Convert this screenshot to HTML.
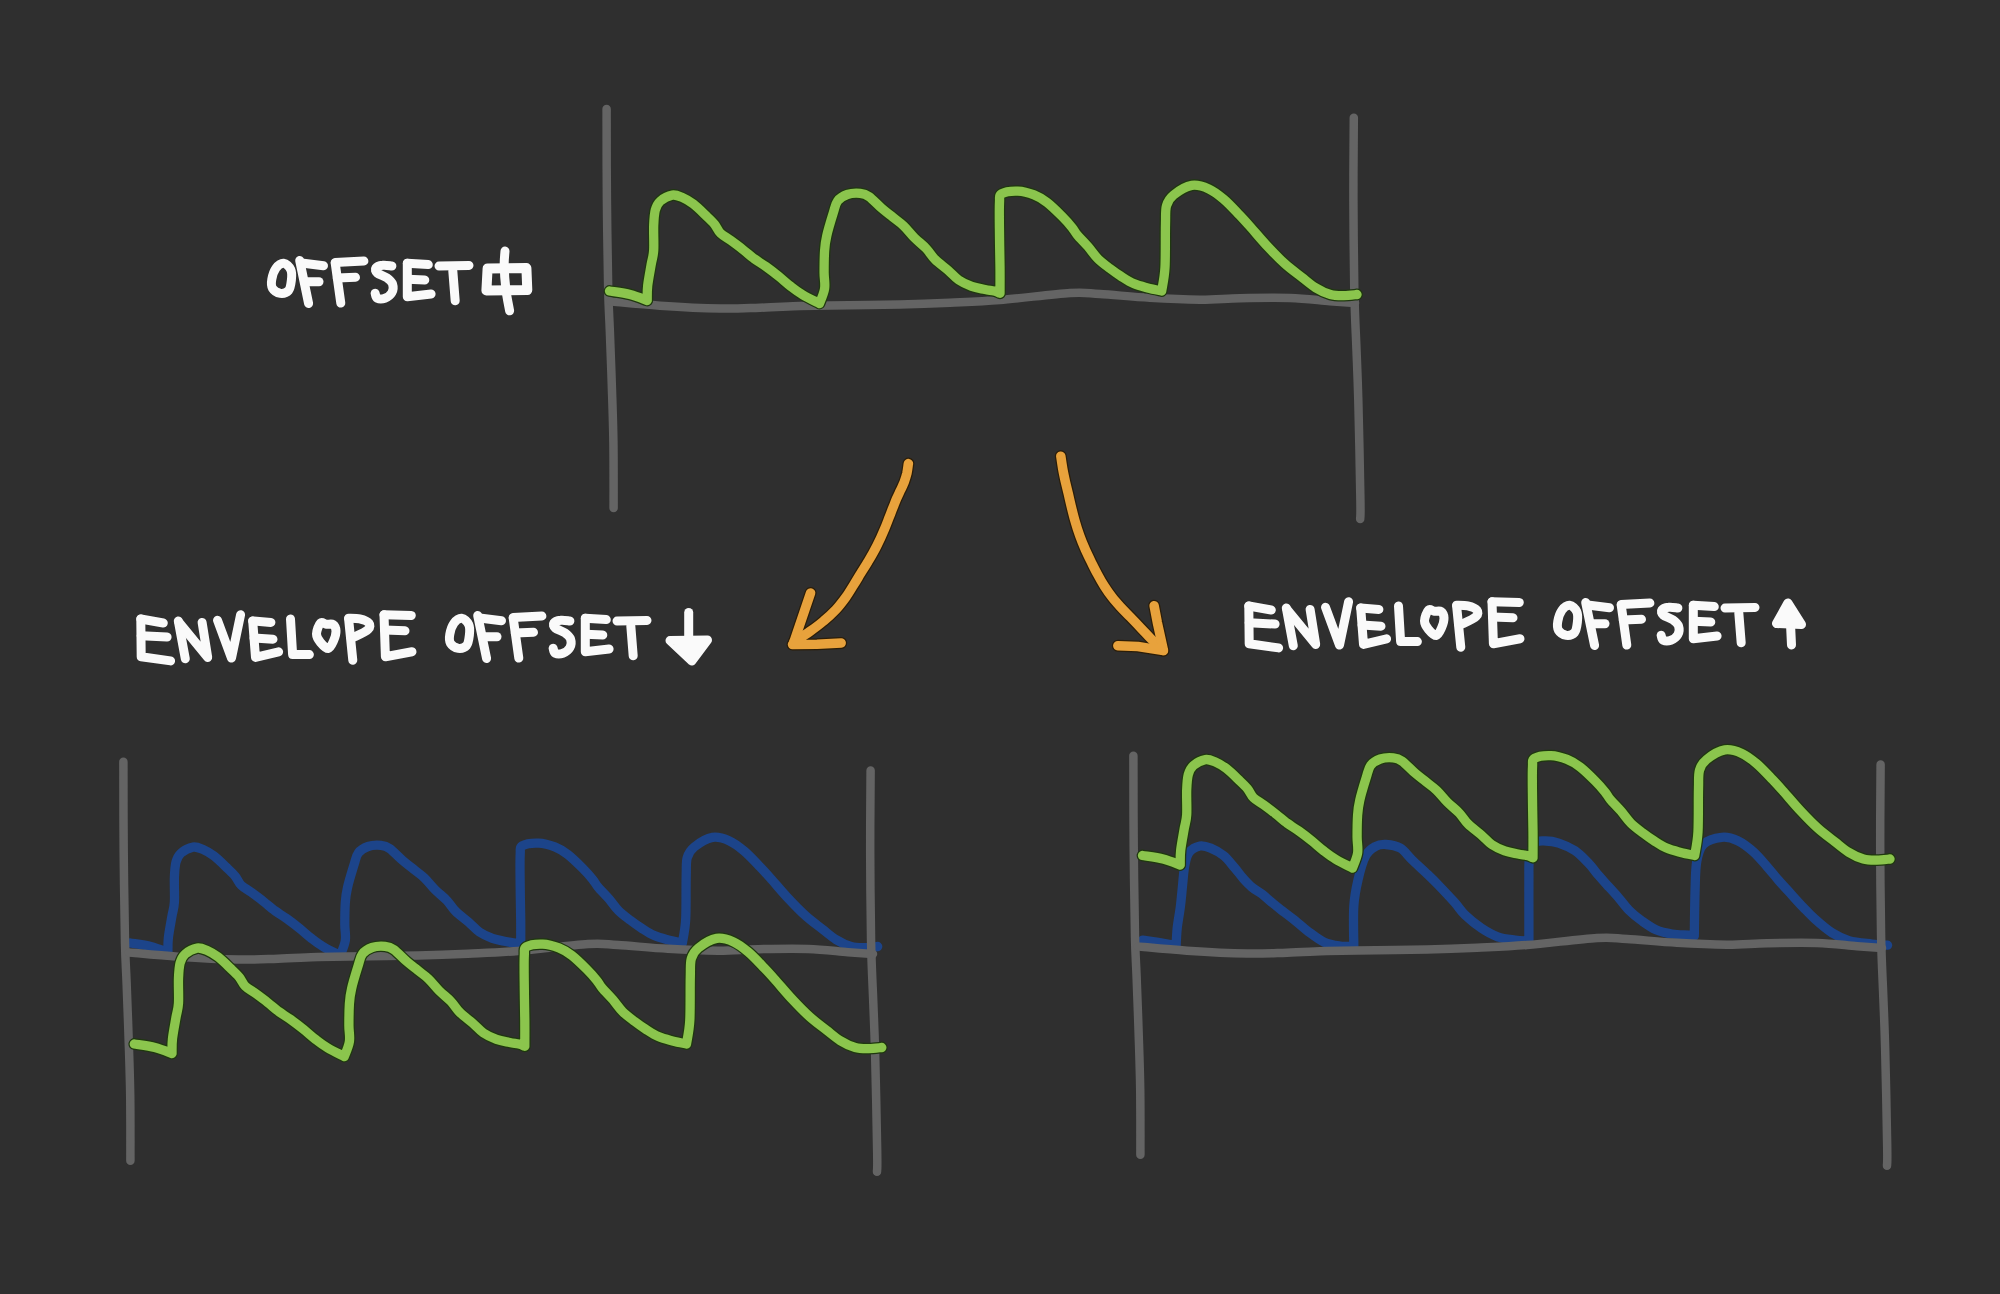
<!DOCTYPE html>
<html><head><meta charset="utf-8"><style>
html,body{margin:0;padding:0;background:#2f2f2f;width:2000px;height:1294px;overflow:hidden;}
svg{display:block;}
path{fill:none;stroke-linecap:round;stroke-linejoin:round;}
.ax{stroke:#646464;stroke-width:8.5;}
.gr{stroke:#8bc54d;stroke-width:9.3;}
.bl{stroke:#1c448a;stroke-width:9.3;}
.halo{stroke:#1f380f;stroke-width:11.8;}
.or{stroke:#e8a23c;stroke-width:9.5;}
.orh{stroke:#2b1d08;stroke-width:12.0;}
.tx{stroke:#fafafa;stroke-width:9;}
.tf{stroke:#fafafa;fill:#fafafa;stroke-width:9;}
</style></head><body>
<svg width="2000" height="1294" viewBox="0 0 2000 1294">
<rect width="2000" height="1294" fill="#2f2f2f"/>
<path class="ax" d="M606.6,109.0 C606.6,124.2 606.6,169.8 606.9,200.0 C607.2,230.2 607.7,268.3 608.2,290.0 C608.7,311.7 609.2,314.2 609.8,330.0 C610.4,345.8 611.2,366.3 611.8,385.0 C612.4,403.7 613.1,421.5 613.4,442.0 C613.7,462.5 613.6,497.0 613.6,508.0"/><path class="ax" d="M1353.8,117.8 C1353.7,131.5 1353.3,171.3 1353.4,200.0 C1353.5,228.7 1353.8,265.0 1354.3,290.0 C1354.8,315.0 1355.8,331.7 1356.5,350.0 C1357.2,368.3 1357.6,375.0 1358.3,400.0 C1359.0,425.0 1360.1,480.2 1360.4,500.0 C1360.7,519.8 1360.2,515.8 1360.2,519.0"/><path class="ax" d="M611.0,301.5 C619.2,302.2 641.8,304.5 660.0,305.7 C678.2,306.9 703.3,308.2 720.0,308.5 C736.7,308.8 746.7,308.1 760.0,307.7 C773.3,307.3 788.3,306.4 800.0,306.0 C811.7,305.6 813.3,305.8 830.0,305.5 C846.7,305.2 880.0,305.0 900.0,304.5 C920.0,304.0 933.3,303.5 950.0,302.8 C966.7,302.0 980.0,301.6 1000.0,300.0 C1020.0,298.4 1053.3,294.0 1070.0,293.0 C1086.7,292.0 1086.7,293.2 1100.0,294.0 C1113.3,294.8 1133.3,296.9 1150.0,297.8 C1166.7,298.8 1185.0,299.6 1200.0,299.7 C1215.0,299.8 1225.0,298.5 1240.0,298.2 C1255.0,297.9 1275.0,297.5 1290.0,298.0 C1305.0,298.5 1319.2,300.4 1330.0,301.2 C1340.8,302.0 1350.8,302.7 1355.0,303.0"/><path class="halo" d="M609.5,291.0 C612.9,291.6 623.8,292.9 630.1,294.5 C636.4,296.1 644.4,299.5 647.2,300.5 C647.3,298.0 647.0,291.5 647.7,285.5 C648.4,279.5 650.2,270.3 651.2,264.4 C652.2,258.5 653.3,256.8 653.7,250.3 C654.1,243.8 653.4,231.9 653.7,225.2 C654.0,218.5 654.2,214.1 655.3,210.1 C656.4,206.1 657.5,203.6 660.3,201.1 C663.1,198.6 668.6,195.7 672.3,195.1 C676.0,194.5 678.9,196.1 682.4,197.6 C685.9,199.1 689.5,201.2 693.4,204.1 C697.2,207.0 702.0,211.8 705.5,215.2 C709.0,218.5 712.0,221.2 714.5,224.2 C717.0,227.2 717.8,230.5 720.5,233.2 C723.2,235.9 726.9,237.6 730.6,240.3 C734.3,243.0 738.8,246.3 742.6,249.3 C746.5,252.3 749.9,255.5 753.7,258.4 C757.6,261.2 761.5,263.4 765.7,266.4 C769.9,269.4 774.6,273.0 778.8,276.4 C783.0,279.8 786.9,283.4 790.9,286.5 C794.9,289.6 798.2,292.2 803.0,295.0 C807.8,297.8 816.8,302.1 819.5,303.5 C820.4,301.0 823.8,293.8 824.6,288.6 C825.4,283.4 824.1,278.7 824.1,272.4 C824.1,266.1 824.2,256.8 824.6,250.7 C825.0,244.6 825.3,241.9 826.8,235.6 C828.2,229.3 831.5,218.7 833.3,212.9 C835.1,207.1 835.3,204.1 837.6,201.0 C839.9,197.9 843.5,195.8 847.3,194.5 C851.1,193.2 856.7,193.1 860.3,193.4 C863.9,193.8 865.4,194.1 869.0,196.6 C872.6,199.1 878.0,205.1 882.0,208.5 C886.0,211.9 889.2,214.3 892.8,217.2 C896.4,220.1 900.0,222.4 903.6,225.8 C907.2,229.2 910.6,233.9 914.4,237.7 C918.2,241.5 922.9,245.0 926.3,248.6 C929.7,252.2 931.4,255.8 935.0,259.4 C938.6,263.0 944.0,266.8 948.0,270.2 C952.0,273.6 954.8,277.3 958.7,280.0 C962.7,282.7 967.3,284.8 971.7,286.4 C976.1,288.0 981.3,288.7 985.0,289.5 C988.7,290.3 991.6,290.5 994.1,291.1 C996.6,291.7 999.0,292.9 1000.0,293.3 C1000.0,289.0 1000.1,277.0 1000.0,267.3 C999.9,257.6 999.6,245.7 999.5,234.9 C999.4,224.1 999.1,209.3 999.5,202.5 C999.9,195.7 998.5,195.7 1001.6,193.8 C1004.7,191.9 1012.5,190.9 1017.9,191.1 C1023.3,191.3 1029.2,193.0 1034.1,194.9 C1039.0,196.8 1042.4,198.9 1047.1,202.5 C1051.8,206.1 1058.1,212.4 1062.2,216.5 C1066.3,220.6 1069.4,224.2 1071.9,227.3 C1074.4,230.4 1074.6,231.7 1077.3,234.9 C1080.0,238.2 1084.8,242.8 1088.2,246.8 C1091.6,250.8 1094.3,255.1 1097.9,258.7 C1101.5,262.3 1106.0,265.5 1109.8,268.4 C1113.6,271.3 1116.6,273.5 1120.6,276.0 C1124.6,278.5 1129.1,281.6 1133.6,283.6 C1138.1,285.6 1143.0,286.7 1147.7,287.9 C1152.4,289.1 1159.4,290.5 1161.7,291.0 C1162.2,287.1 1164.4,278.4 1165.0,267.3 C1165.6,256.2 1165.2,234.4 1165.5,224.1 C1165.8,213.8 1165.2,210.5 1166.5,205.7 C1167.8,200.8 1169.4,198.4 1173.6,195.0 C1177.8,191.6 1185.9,186.4 1191.8,185.4 C1197.7,184.4 1203.5,186.6 1208.8,188.9 C1214.1,191.2 1218.5,194.8 1223.6,199.1 C1228.7,203.4 1235.0,210.3 1239.5,215.0 C1244.0,219.7 1246.2,222.2 1250.9,227.5 C1255.6,232.8 1262.2,240.8 1267.9,246.8 C1273.6,252.9 1279.2,258.7 1284.9,263.8 C1290.6,268.9 1296.9,273.4 1302.0,277.4 C1307.1,281.4 1310.9,284.8 1315.6,287.7 C1320.3,290.6 1325.7,293.2 1330.4,294.5 C1335.1,295.8 1339.6,295.6 1344.0,295.6 C1348.4,295.6 1354.8,294.7 1357.0,294.5"/><path class="gr" d="M609.5,291.0 C612.9,291.6 623.8,292.9 630.1,294.5 C636.4,296.1 644.4,299.5 647.2,300.5 C647.3,298.0 647.0,291.5 647.7,285.5 C648.4,279.5 650.2,270.3 651.2,264.4 C652.2,258.5 653.3,256.8 653.7,250.3 C654.1,243.8 653.4,231.9 653.7,225.2 C654.0,218.5 654.2,214.1 655.3,210.1 C656.4,206.1 657.5,203.6 660.3,201.1 C663.1,198.6 668.6,195.7 672.3,195.1 C676.0,194.5 678.9,196.1 682.4,197.6 C685.9,199.1 689.5,201.2 693.4,204.1 C697.2,207.0 702.0,211.8 705.5,215.2 C709.0,218.5 712.0,221.2 714.5,224.2 C717.0,227.2 717.8,230.5 720.5,233.2 C723.2,235.9 726.9,237.6 730.6,240.3 C734.3,243.0 738.8,246.3 742.6,249.3 C746.5,252.3 749.9,255.5 753.7,258.4 C757.6,261.2 761.5,263.4 765.7,266.4 C769.9,269.4 774.6,273.0 778.8,276.4 C783.0,279.8 786.9,283.4 790.9,286.5 C794.9,289.6 798.2,292.2 803.0,295.0 C807.8,297.8 816.8,302.1 819.5,303.5 C820.4,301.0 823.8,293.8 824.6,288.6 C825.4,283.4 824.1,278.7 824.1,272.4 C824.1,266.1 824.2,256.8 824.6,250.7 C825.0,244.6 825.3,241.9 826.8,235.6 C828.2,229.3 831.5,218.7 833.3,212.9 C835.1,207.1 835.3,204.1 837.6,201.0 C839.9,197.9 843.5,195.8 847.3,194.5 C851.1,193.2 856.7,193.1 860.3,193.4 C863.9,193.8 865.4,194.1 869.0,196.6 C872.6,199.1 878.0,205.1 882.0,208.5 C886.0,211.9 889.2,214.3 892.8,217.2 C896.4,220.1 900.0,222.4 903.6,225.8 C907.2,229.2 910.6,233.9 914.4,237.7 C918.2,241.5 922.9,245.0 926.3,248.6 C929.7,252.2 931.4,255.8 935.0,259.4 C938.6,263.0 944.0,266.8 948.0,270.2 C952.0,273.6 954.8,277.3 958.7,280.0 C962.7,282.7 967.3,284.8 971.7,286.4 C976.1,288.0 981.3,288.7 985.0,289.5 C988.7,290.3 991.6,290.5 994.1,291.1 C996.6,291.7 999.0,292.9 1000.0,293.3 C1000.0,289.0 1000.1,277.0 1000.0,267.3 C999.9,257.6 999.6,245.7 999.5,234.9 C999.4,224.1 999.1,209.3 999.5,202.5 C999.9,195.7 998.5,195.7 1001.6,193.8 C1004.7,191.9 1012.5,190.9 1017.9,191.1 C1023.3,191.3 1029.2,193.0 1034.1,194.9 C1039.0,196.8 1042.4,198.9 1047.1,202.5 C1051.8,206.1 1058.1,212.4 1062.2,216.5 C1066.3,220.6 1069.4,224.2 1071.9,227.3 C1074.4,230.4 1074.6,231.7 1077.3,234.9 C1080.0,238.2 1084.8,242.8 1088.2,246.8 C1091.6,250.8 1094.3,255.1 1097.9,258.7 C1101.5,262.3 1106.0,265.5 1109.8,268.4 C1113.6,271.3 1116.6,273.5 1120.6,276.0 C1124.6,278.5 1129.1,281.6 1133.6,283.6 C1138.1,285.6 1143.0,286.7 1147.7,287.9 C1152.4,289.1 1159.4,290.5 1161.7,291.0 C1162.2,287.1 1164.4,278.4 1165.0,267.3 C1165.6,256.2 1165.2,234.4 1165.5,224.1 C1165.8,213.8 1165.2,210.5 1166.5,205.7 C1167.8,200.8 1169.4,198.4 1173.6,195.0 C1177.8,191.6 1185.9,186.4 1191.8,185.4 C1197.7,184.4 1203.5,186.6 1208.8,188.9 C1214.1,191.2 1218.5,194.8 1223.6,199.1 C1228.7,203.4 1235.0,210.3 1239.5,215.0 C1244.0,219.7 1246.2,222.2 1250.9,227.5 C1255.6,232.8 1262.2,240.8 1267.9,246.8 C1273.6,252.9 1279.2,258.7 1284.9,263.8 C1290.6,268.9 1296.9,273.4 1302.0,277.4 C1307.1,281.4 1310.9,284.8 1315.6,287.7 C1320.3,290.6 1325.7,293.2 1330.4,294.5 C1335.1,295.8 1339.6,295.6 1344.0,295.6 C1348.4,295.6 1354.8,294.7 1357.0,294.5"/><g transform="translate(-479.3,652)"><path class="bl" d="M609.5,291.0 C612.9,291.6 623.8,292.9 630.1,294.5 C636.4,296.1 644.4,299.5 647.2,300.5 C647.3,298.0 647.0,291.5 647.7,285.5 C648.4,279.5 650.2,270.3 651.2,264.4 C652.2,258.5 653.3,256.8 653.7,250.3 C654.1,243.8 653.4,231.9 653.7,225.2 C654.0,218.5 654.2,214.1 655.3,210.1 C656.4,206.1 657.5,203.6 660.3,201.1 C663.1,198.6 668.6,195.7 672.3,195.1 C676.0,194.5 678.9,196.1 682.4,197.6 C685.9,199.1 689.5,201.2 693.4,204.1 C697.2,207.0 702.0,211.8 705.5,215.2 C709.0,218.5 712.0,221.2 714.5,224.2 C717.0,227.2 717.8,230.5 720.5,233.2 C723.2,235.9 726.9,237.6 730.6,240.3 C734.3,243.0 738.8,246.3 742.6,249.3 C746.5,252.3 749.9,255.5 753.7,258.4 C757.6,261.2 761.5,263.4 765.7,266.4 C769.9,269.4 774.6,273.0 778.8,276.4 C783.0,279.8 786.9,283.4 790.9,286.5 C794.9,289.6 798.2,292.2 803.0,295.0 C807.8,297.8 816.8,302.1 819.5,303.5 C820.4,301.0 823.8,293.8 824.6,288.6 C825.4,283.4 824.1,278.7 824.1,272.4 C824.1,266.1 824.2,256.8 824.6,250.7 C825.0,244.6 825.3,241.9 826.8,235.6 C828.2,229.3 831.5,218.7 833.3,212.9 C835.1,207.1 835.3,204.1 837.6,201.0 C839.9,197.9 843.5,195.8 847.3,194.5 C851.1,193.2 856.7,193.1 860.3,193.4 C863.9,193.8 865.4,194.1 869.0,196.6 C872.6,199.1 878.0,205.1 882.0,208.5 C886.0,211.9 889.2,214.3 892.8,217.2 C896.4,220.1 900.0,222.4 903.6,225.8 C907.2,229.2 910.6,233.9 914.4,237.7 C918.2,241.5 922.9,245.0 926.3,248.6 C929.7,252.2 931.4,255.8 935.0,259.4 C938.6,263.0 944.0,266.8 948.0,270.2 C952.0,273.6 954.8,277.3 958.7,280.0 C962.7,282.7 967.3,284.8 971.7,286.4 C976.1,288.0 981.3,288.7 985.0,289.5 C988.7,290.3 991.6,290.5 994.1,291.1 C996.6,291.7 999.0,292.9 1000.0,293.3 C1000.0,289.0 1000.1,277.0 1000.0,267.3 C999.9,257.6 999.6,245.7 999.5,234.9 C999.4,224.1 999.1,209.3 999.5,202.5 C999.9,195.7 998.5,195.7 1001.6,193.8 C1004.7,191.9 1012.5,190.9 1017.9,191.1 C1023.3,191.3 1029.2,193.0 1034.1,194.9 C1039.0,196.8 1042.4,198.9 1047.1,202.5 C1051.8,206.1 1058.1,212.4 1062.2,216.5 C1066.3,220.6 1069.4,224.2 1071.9,227.3 C1074.4,230.4 1074.6,231.7 1077.3,234.9 C1080.0,238.2 1084.8,242.8 1088.2,246.8 C1091.6,250.8 1094.3,255.1 1097.9,258.7 C1101.5,262.3 1106.0,265.5 1109.8,268.4 C1113.6,271.3 1116.6,273.5 1120.6,276.0 C1124.6,278.5 1129.1,281.6 1133.6,283.6 C1138.1,285.6 1143.0,286.7 1147.7,287.9 C1152.4,289.1 1159.4,290.5 1161.7,291.0 C1162.2,287.1 1164.4,278.4 1165.0,267.3 C1165.6,256.2 1165.2,234.4 1165.5,224.1 C1165.8,213.8 1165.2,210.5 1166.5,205.7 C1167.8,200.8 1169.4,198.4 1173.6,195.0 C1177.8,191.6 1185.9,186.4 1191.8,185.4 C1197.7,184.4 1203.5,186.6 1208.8,188.9 C1214.1,191.2 1218.5,194.8 1223.6,199.1 C1228.7,203.4 1235.0,210.3 1239.5,215.0 C1244.0,219.7 1246.2,222.2 1250.9,227.5 C1255.6,232.8 1262.2,240.8 1267.9,246.8 C1273.6,252.9 1279.2,258.7 1284.9,263.8 C1290.6,268.9 1296.9,273.4 1302.0,277.4 C1307.1,281.4 1310.9,284.8 1315.6,287.7 C1320.3,290.6 1325.7,293.2 1330.4,294.5 C1335.1,295.8 1339.6,295.6 1344.0,295.6 C1348.4,295.6 1354.8,294.7 1357.0,294.5"/></g><g transform="translate(-483.2,652.8)"><path class="ax" d="M606.6,109.0 C606.6,124.2 606.6,169.8 606.9,200.0 C607.2,230.2 607.7,268.3 608.2,290.0 C608.7,311.7 609.2,314.2 609.8,330.0 C610.4,345.8 611.2,366.3 611.8,385.0 C612.4,403.7 613.1,421.5 613.4,442.0 C613.7,462.5 613.6,497.0 613.6,508.0"/><path class="ax" d="M1353.8,117.8 C1353.7,131.5 1353.3,171.3 1353.4,200.0 C1353.5,228.7 1353.8,265.0 1354.3,290.0 C1354.8,315.0 1355.8,331.7 1356.5,350.0 C1357.2,368.3 1357.6,375.0 1358.3,400.0 C1359.0,425.0 1360.1,480.2 1360.4,500.0 C1360.7,519.8 1360.2,515.8 1360.2,519.0"/></g><g transform="translate(-482,651)"><path class="ax" d="M611.0,301.5 C619.2,302.2 641.8,304.5 660.0,305.7 C678.2,306.9 703.3,308.2 720.0,308.5 C736.7,308.8 746.7,308.1 760.0,307.7 C773.3,307.3 788.3,306.4 800.0,306.0 C811.7,305.6 813.3,305.8 830.0,305.5 C846.7,305.2 880.0,305.0 900.0,304.5 C920.0,304.0 933.3,303.5 950.0,302.8 C966.7,302.0 980.0,301.6 1000.0,300.0 C1020.0,298.4 1053.3,294.0 1070.0,293.0 C1086.7,292.0 1086.7,293.2 1100.0,294.0 C1113.3,294.8 1133.3,296.9 1150.0,297.8 C1166.7,298.8 1185.0,299.6 1200.0,299.7 C1215.0,299.8 1225.0,298.5 1240.0,298.2 C1255.0,297.9 1275.0,297.5 1290.0,298.0 C1305.0,298.5 1319.2,300.4 1330.0,301.2 C1340.8,302.0 1350.8,302.7 1355.0,303.0"/></g><g transform="translate(-475.2,753)"><path class="halo" d="M609.5,291.0 C612.9,291.6 623.8,292.9 630.1,294.5 C636.4,296.1 644.4,299.5 647.2,300.5 C647.3,298.0 647.0,291.5 647.7,285.5 C648.4,279.5 650.2,270.3 651.2,264.4 C652.2,258.5 653.3,256.8 653.7,250.3 C654.1,243.8 653.4,231.9 653.7,225.2 C654.0,218.5 654.2,214.1 655.3,210.1 C656.4,206.1 657.5,203.6 660.3,201.1 C663.1,198.6 668.6,195.7 672.3,195.1 C676.0,194.5 678.9,196.1 682.4,197.6 C685.9,199.1 689.5,201.2 693.4,204.1 C697.2,207.0 702.0,211.8 705.5,215.2 C709.0,218.5 712.0,221.2 714.5,224.2 C717.0,227.2 717.8,230.5 720.5,233.2 C723.2,235.9 726.9,237.6 730.6,240.3 C734.3,243.0 738.8,246.3 742.6,249.3 C746.5,252.3 749.9,255.5 753.7,258.4 C757.6,261.2 761.5,263.4 765.7,266.4 C769.9,269.4 774.6,273.0 778.8,276.4 C783.0,279.8 786.9,283.4 790.9,286.5 C794.9,289.6 798.2,292.2 803.0,295.0 C807.8,297.8 816.8,302.1 819.5,303.5 C820.4,301.0 823.8,293.8 824.6,288.6 C825.4,283.4 824.1,278.7 824.1,272.4 C824.1,266.1 824.2,256.8 824.6,250.7 C825.0,244.6 825.3,241.9 826.8,235.6 C828.2,229.3 831.5,218.7 833.3,212.9 C835.1,207.1 835.3,204.1 837.6,201.0 C839.9,197.9 843.5,195.8 847.3,194.5 C851.1,193.2 856.7,193.1 860.3,193.4 C863.9,193.8 865.4,194.1 869.0,196.6 C872.6,199.1 878.0,205.1 882.0,208.5 C886.0,211.9 889.2,214.3 892.8,217.2 C896.4,220.1 900.0,222.4 903.6,225.8 C907.2,229.2 910.6,233.9 914.4,237.7 C918.2,241.5 922.9,245.0 926.3,248.6 C929.7,252.2 931.4,255.8 935.0,259.4 C938.6,263.0 944.0,266.8 948.0,270.2 C952.0,273.6 954.8,277.3 958.7,280.0 C962.7,282.7 967.3,284.8 971.7,286.4 C976.1,288.0 981.3,288.7 985.0,289.5 C988.7,290.3 991.6,290.5 994.1,291.1 C996.6,291.7 999.0,292.9 1000.0,293.3 C1000.0,289.0 1000.1,277.0 1000.0,267.3 C999.9,257.6 999.6,245.7 999.5,234.9 C999.4,224.1 999.1,209.3 999.5,202.5 C999.9,195.7 998.5,195.7 1001.6,193.8 C1004.7,191.9 1012.5,190.9 1017.9,191.1 C1023.3,191.3 1029.2,193.0 1034.1,194.9 C1039.0,196.8 1042.4,198.9 1047.1,202.5 C1051.8,206.1 1058.1,212.4 1062.2,216.5 C1066.3,220.6 1069.4,224.2 1071.9,227.3 C1074.4,230.4 1074.6,231.7 1077.3,234.9 C1080.0,238.2 1084.8,242.8 1088.2,246.8 C1091.6,250.8 1094.3,255.1 1097.9,258.7 C1101.5,262.3 1106.0,265.5 1109.8,268.4 C1113.6,271.3 1116.6,273.5 1120.6,276.0 C1124.6,278.5 1129.1,281.6 1133.6,283.6 C1138.1,285.6 1143.0,286.7 1147.7,287.9 C1152.4,289.1 1159.4,290.5 1161.7,291.0 C1162.2,287.1 1164.4,278.4 1165.0,267.3 C1165.6,256.2 1165.2,234.4 1165.5,224.1 C1165.8,213.8 1165.2,210.5 1166.5,205.7 C1167.8,200.8 1169.4,198.4 1173.6,195.0 C1177.8,191.6 1185.9,186.4 1191.8,185.4 C1197.7,184.4 1203.5,186.6 1208.8,188.9 C1214.1,191.2 1218.5,194.8 1223.6,199.1 C1228.7,203.4 1235.0,210.3 1239.5,215.0 C1244.0,219.7 1246.2,222.2 1250.9,227.5 C1255.6,232.8 1262.2,240.8 1267.9,246.8 C1273.6,252.9 1279.2,258.7 1284.9,263.8 C1290.6,268.9 1296.9,273.4 1302.0,277.4 C1307.1,281.4 1310.9,284.8 1315.6,287.7 C1320.3,290.6 1325.7,293.2 1330.4,294.5 C1335.1,295.8 1339.6,295.6 1344.0,295.6 C1348.4,295.6 1354.8,294.7 1357.0,294.5"/><path class="gr" d="M609.5,291.0 C612.9,291.6 623.8,292.9 630.1,294.5 C636.4,296.1 644.4,299.5 647.2,300.5 C647.3,298.0 647.0,291.5 647.7,285.5 C648.4,279.5 650.2,270.3 651.2,264.4 C652.2,258.5 653.3,256.8 653.7,250.3 C654.1,243.8 653.4,231.9 653.7,225.2 C654.0,218.5 654.2,214.1 655.3,210.1 C656.4,206.1 657.5,203.6 660.3,201.1 C663.1,198.6 668.6,195.7 672.3,195.1 C676.0,194.5 678.9,196.1 682.4,197.6 C685.9,199.1 689.5,201.2 693.4,204.1 C697.2,207.0 702.0,211.8 705.5,215.2 C709.0,218.5 712.0,221.2 714.5,224.2 C717.0,227.2 717.8,230.5 720.5,233.2 C723.2,235.9 726.9,237.6 730.6,240.3 C734.3,243.0 738.8,246.3 742.6,249.3 C746.5,252.3 749.9,255.5 753.7,258.4 C757.6,261.2 761.5,263.4 765.7,266.4 C769.9,269.4 774.6,273.0 778.8,276.4 C783.0,279.8 786.9,283.4 790.9,286.5 C794.9,289.6 798.2,292.2 803.0,295.0 C807.8,297.8 816.8,302.1 819.5,303.5 C820.4,301.0 823.8,293.8 824.6,288.6 C825.4,283.4 824.1,278.7 824.1,272.4 C824.1,266.1 824.2,256.8 824.6,250.7 C825.0,244.6 825.3,241.9 826.8,235.6 C828.2,229.3 831.5,218.7 833.3,212.9 C835.1,207.1 835.3,204.1 837.6,201.0 C839.9,197.9 843.5,195.8 847.3,194.5 C851.1,193.2 856.7,193.1 860.3,193.4 C863.9,193.8 865.4,194.1 869.0,196.6 C872.6,199.1 878.0,205.1 882.0,208.5 C886.0,211.9 889.2,214.3 892.8,217.2 C896.4,220.1 900.0,222.4 903.6,225.8 C907.2,229.2 910.6,233.9 914.4,237.7 C918.2,241.5 922.9,245.0 926.3,248.6 C929.7,252.2 931.4,255.8 935.0,259.4 C938.6,263.0 944.0,266.8 948.0,270.2 C952.0,273.6 954.8,277.3 958.7,280.0 C962.7,282.7 967.3,284.8 971.7,286.4 C976.1,288.0 981.3,288.7 985.0,289.5 C988.7,290.3 991.6,290.5 994.1,291.1 C996.6,291.7 999.0,292.9 1000.0,293.3 C1000.0,289.0 1000.1,277.0 1000.0,267.3 C999.9,257.6 999.6,245.7 999.5,234.9 C999.4,224.1 999.1,209.3 999.5,202.5 C999.9,195.7 998.5,195.7 1001.6,193.8 C1004.7,191.9 1012.5,190.9 1017.9,191.1 C1023.3,191.3 1029.2,193.0 1034.1,194.9 C1039.0,196.8 1042.4,198.9 1047.1,202.5 C1051.8,206.1 1058.1,212.4 1062.2,216.5 C1066.3,220.6 1069.4,224.2 1071.9,227.3 C1074.4,230.4 1074.6,231.7 1077.3,234.9 C1080.0,238.2 1084.8,242.8 1088.2,246.8 C1091.6,250.8 1094.3,255.1 1097.9,258.7 C1101.5,262.3 1106.0,265.5 1109.8,268.4 C1113.6,271.3 1116.6,273.5 1120.6,276.0 C1124.6,278.5 1129.1,281.6 1133.6,283.6 C1138.1,285.6 1143.0,286.7 1147.7,287.9 C1152.4,289.1 1159.4,290.5 1161.7,291.0 C1162.2,287.1 1164.4,278.4 1165.0,267.3 C1165.6,256.2 1165.2,234.4 1165.5,224.1 C1165.8,213.8 1165.2,210.5 1166.5,205.7 C1167.8,200.8 1169.4,198.4 1173.6,195.0 C1177.8,191.6 1185.9,186.4 1191.8,185.4 C1197.7,184.4 1203.5,186.6 1208.8,188.9 C1214.1,191.2 1218.5,194.8 1223.6,199.1 C1228.7,203.4 1235.0,210.3 1239.5,215.0 C1244.0,219.7 1246.2,222.2 1250.9,227.5 C1255.6,232.8 1262.2,240.8 1267.9,246.8 C1273.6,252.9 1279.2,258.7 1284.9,263.8 C1290.6,268.9 1296.9,273.4 1302.0,277.4 C1307.1,281.4 1310.9,284.8 1315.6,287.7 C1320.3,290.6 1325.7,293.2 1330.4,294.5 C1335.1,295.8 1339.6,295.6 1344.0,295.6 C1348.4,295.6 1354.8,294.7 1357.0,294.5"/></g><path class="bl" d="M1142.6,940.1 C1144.9,940.5 1151.0,941.3 1156.6,942.2 C1162.2,943.1 1172.8,945.0 1176.1,945.5 C1176.3,942.6 1176.5,934.7 1177.2,928.2 C1177.9,921.7 1179.5,913.7 1180.4,906.5 C1181.3,899.3 1181.9,891.8 1182.6,884.9 C1183.3,878.0 1183.7,870.8 1184.8,865.4 C1185.9,860.0 1186.6,855.7 1189.1,852.5 C1191.6,849.3 1196.3,846.7 1199.9,846.0 C1203.5,845.3 1206.7,846.5 1210.7,848.1 C1214.7,849.7 1219.7,852.5 1223.7,855.7 C1227.7,859.0 1231.2,863.8 1234.5,867.6 C1237.8,871.4 1240.3,875.1 1243.2,878.4 C1246.1,881.6 1248.6,884.4 1251.8,887.1 C1255.0,889.8 1259.5,892.3 1262.6,894.6 C1265.7,896.9 1267.1,898.6 1270.2,901.1 C1273.3,903.6 1276.8,906.5 1281.0,909.8 C1285.2,913.0 1290.6,917.0 1295.1,920.6 C1299.6,924.2 1303.2,927.8 1308.1,931.4 C1313.0,935.0 1319.0,939.8 1324.3,942.2 C1329.6,944.6 1335.1,945.3 1340.0,946.0 C1344.9,946.7 1351.5,946.4 1353.8,946.5 C1353.8,939.8 1353.1,917.7 1353.8,906.5 C1354.5,895.3 1356.1,888.0 1358.1,879.5 C1360.1,871.0 1362.8,861.2 1365.7,855.7 C1368.6,850.2 1372.0,848.4 1375.4,846.5 C1378.8,844.6 1381.8,844.2 1386.0,844.5 C1390.2,844.8 1395.9,845.5 1400.3,848.1 C1404.7,850.7 1407.7,855.7 1412.2,860.0 C1416.7,864.3 1423.0,870.0 1427.3,874.1 C1431.6,878.2 1433.7,880.2 1438.2,884.9 C1442.7,889.6 1449.9,897.2 1454.4,902.2 C1458.9,907.2 1460.7,910.9 1465.2,915.2 C1469.7,919.5 1476.0,924.6 1481.4,928.2 C1486.8,931.8 1492.1,934.8 1497.7,936.8 C1503.3,938.8 1509.8,939.3 1515.0,940.0 C1520.2,940.7 1526.6,940.8 1528.9,941.0 C1528.9,936.2 1528.9,922.6 1528.9,912.4 C1528.9,902.2 1528.8,888.9 1528.9,879.9 C1529.0,870.9 1528.5,864.4 1529.5,858.3 C1530.5,852.2 1532.2,846.0 1534.9,843.1 C1537.6,840.2 1541.7,841.0 1545.7,841.0 C1549.7,841.0 1553.8,841.5 1558.7,843.1 C1563.6,844.7 1570.0,847.5 1574.9,850.7 C1579.8,854.0 1583.9,858.5 1587.9,862.6 C1591.9,866.8 1595.5,871.8 1598.7,875.6 C1602.0,879.4 1604.2,881.7 1607.4,885.3 C1610.7,888.9 1614.6,893.1 1618.2,897.2 C1621.8,901.4 1625.0,906.2 1629.0,910.2 C1633.0,914.2 1637.5,917.8 1642.0,921.0 C1646.5,924.2 1651.0,927.5 1656.0,929.7 C1661.0,931.9 1666.8,933.1 1672.2,934.0 C1677.6,934.9 1684.8,934.8 1688.5,935.1 C1692.2,935.4 1693.3,935.9 1694.3,936.0 C1694.4,928.2 1694.7,902.0 1695.1,889.5 C1695.5,877.0 1695.4,868.7 1696.8,861.1 C1698.2,853.5 1699.4,848.1 1703.6,844.1 C1707.8,840.1 1716.1,837.9 1721.8,837.3 C1727.5,836.7 1732.4,838.2 1737.7,840.7 C1743.0,843.2 1748.7,847.6 1753.6,852.0 C1758.5,856.4 1763.0,862.1 1767.2,866.8 C1771.4,871.5 1774.8,876.0 1778.6,880.4 C1782.4,884.8 1785.8,888.3 1790.0,892.9 C1794.2,897.5 1799.4,903.4 1803.6,907.7 C1807.8,912.1 1810.2,914.8 1814.9,919.0 C1819.6,923.2 1826.3,929.1 1832.0,932.7 C1837.7,936.3 1842.4,938.7 1849.0,940.6 C1855.6,942.5 1865.3,943.2 1871.7,944.0 C1878.1,944.8 1884.9,945.0 1887.6,945.2"/><g transform="translate(526.8,646.8)"><path class="ax" d="M606.6,109.0 C606.6,124.2 606.6,169.8 606.9,200.0 C607.2,230.2 607.7,268.3 608.2,290.0 C608.7,311.7 609.2,314.2 609.8,330.0 C610.4,345.8 611.2,366.3 611.8,385.0 C612.4,403.7 613.1,421.5 613.4,442.0 C613.7,462.5 613.6,497.0 613.6,508.0"/><path class="ax" d="M1353.8,117.8 C1353.7,131.5 1353.3,171.3 1353.4,200.0 C1353.5,228.7 1353.8,265.0 1354.3,290.0 C1354.8,315.0 1355.8,331.7 1356.5,350.0 C1357.2,368.3 1357.6,375.0 1358.3,400.0 C1359.0,425.0 1360.1,480.2 1360.4,500.0 C1360.7,519.8 1360.2,515.8 1360.2,519.0"/></g><g transform="translate(527,645)"><path class="ax" d="M611.0,301.5 C619.2,302.2 641.8,304.5 660.0,305.7 C678.2,306.9 703.3,308.2 720.0,308.5 C736.7,308.8 746.7,308.1 760.0,307.7 C773.3,307.3 788.3,306.4 800.0,306.0 C811.7,305.6 813.3,305.8 830.0,305.5 C846.7,305.2 880.0,305.0 900.0,304.5 C920.0,304.0 933.3,303.5 950.0,302.8 C966.7,302.0 980.0,301.6 1000.0,300.0 C1020.0,298.4 1053.3,294.0 1070.0,293.0 C1086.7,292.0 1086.7,293.2 1100.0,294.0 C1113.3,294.8 1133.3,296.9 1150.0,297.8 C1166.7,298.8 1185.0,299.6 1200.0,299.7 C1215.0,299.8 1225.0,298.5 1240.0,298.2 C1255.0,297.9 1275.0,297.5 1290.0,298.0 C1305.0,298.5 1319.2,300.4 1330.0,301.2 C1340.8,302.0 1350.8,302.7 1355.0,303.0"/></g><g transform="translate(533,564.5)"><path class="halo" d="M609.5,291.0 C612.9,291.6 623.8,292.9 630.1,294.5 C636.4,296.1 644.4,299.5 647.2,300.5 C647.3,298.0 647.0,291.5 647.7,285.5 C648.4,279.5 650.2,270.3 651.2,264.4 C652.2,258.5 653.3,256.8 653.7,250.3 C654.1,243.8 653.4,231.9 653.7,225.2 C654.0,218.5 654.2,214.1 655.3,210.1 C656.4,206.1 657.5,203.6 660.3,201.1 C663.1,198.6 668.6,195.7 672.3,195.1 C676.0,194.5 678.9,196.1 682.4,197.6 C685.9,199.1 689.5,201.2 693.4,204.1 C697.2,207.0 702.0,211.8 705.5,215.2 C709.0,218.5 712.0,221.2 714.5,224.2 C717.0,227.2 717.8,230.5 720.5,233.2 C723.2,235.9 726.9,237.6 730.6,240.3 C734.3,243.0 738.8,246.3 742.6,249.3 C746.5,252.3 749.9,255.5 753.7,258.4 C757.6,261.2 761.5,263.4 765.7,266.4 C769.9,269.4 774.6,273.0 778.8,276.4 C783.0,279.8 786.9,283.4 790.9,286.5 C794.9,289.6 798.2,292.2 803.0,295.0 C807.8,297.8 816.8,302.1 819.5,303.5 C820.4,301.0 823.8,293.8 824.6,288.6 C825.4,283.4 824.1,278.7 824.1,272.4 C824.1,266.1 824.2,256.8 824.6,250.7 C825.0,244.6 825.3,241.9 826.8,235.6 C828.2,229.3 831.5,218.7 833.3,212.9 C835.1,207.1 835.3,204.1 837.6,201.0 C839.9,197.9 843.5,195.8 847.3,194.5 C851.1,193.2 856.7,193.1 860.3,193.4 C863.9,193.8 865.4,194.1 869.0,196.6 C872.6,199.1 878.0,205.1 882.0,208.5 C886.0,211.9 889.2,214.3 892.8,217.2 C896.4,220.1 900.0,222.4 903.6,225.8 C907.2,229.2 910.6,233.9 914.4,237.7 C918.2,241.5 922.9,245.0 926.3,248.6 C929.7,252.2 931.4,255.8 935.0,259.4 C938.6,263.0 944.0,266.8 948.0,270.2 C952.0,273.6 954.8,277.3 958.7,280.0 C962.7,282.7 967.3,284.8 971.7,286.4 C976.1,288.0 981.3,288.7 985.0,289.5 C988.7,290.3 991.6,290.5 994.1,291.1 C996.6,291.7 999.0,292.9 1000.0,293.3 C1000.0,289.0 1000.1,277.0 1000.0,267.3 C999.9,257.6 999.6,245.7 999.5,234.9 C999.4,224.1 999.1,209.3 999.5,202.5 C999.9,195.7 998.5,195.7 1001.6,193.8 C1004.7,191.9 1012.5,190.9 1017.9,191.1 C1023.3,191.3 1029.2,193.0 1034.1,194.9 C1039.0,196.8 1042.4,198.9 1047.1,202.5 C1051.8,206.1 1058.1,212.4 1062.2,216.5 C1066.3,220.6 1069.4,224.2 1071.9,227.3 C1074.4,230.4 1074.6,231.7 1077.3,234.9 C1080.0,238.2 1084.8,242.8 1088.2,246.8 C1091.6,250.8 1094.3,255.1 1097.9,258.7 C1101.5,262.3 1106.0,265.5 1109.8,268.4 C1113.6,271.3 1116.6,273.5 1120.6,276.0 C1124.6,278.5 1129.1,281.6 1133.6,283.6 C1138.1,285.6 1143.0,286.7 1147.7,287.9 C1152.4,289.1 1159.4,290.5 1161.7,291.0 C1162.2,287.1 1164.4,278.4 1165.0,267.3 C1165.6,256.2 1165.2,234.4 1165.5,224.1 C1165.8,213.8 1165.2,210.5 1166.5,205.7 C1167.8,200.8 1169.4,198.4 1173.6,195.0 C1177.8,191.6 1185.9,186.4 1191.8,185.4 C1197.7,184.4 1203.5,186.6 1208.8,188.9 C1214.1,191.2 1218.5,194.8 1223.6,199.1 C1228.7,203.4 1235.0,210.3 1239.5,215.0 C1244.0,219.7 1246.2,222.2 1250.9,227.5 C1255.6,232.8 1262.2,240.8 1267.9,246.8 C1273.6,252.9 1279.2,258.7 1284.9,263.8 C1290.6,268.9 1296.9,273.4 1302.0,277.4 C1307.1,281.4 1310.9,284.8 1315.6,287.7 C1320.3,290.6 1325.7,293.2 1330.4,294.5 C1335.1,295.8 1339.6,295.6 1344.0,295.6 C1348.4,295.6 1354.8,294.7 1357.0,294.5"/><path class="gr" d="M609.5,291.0 C612.9,291.6 623.8,292.9 630.1,294.5 C636.4,296.1 644.4,299.5 647.2,300.5 C647.3,298.0 647.0,291.5 647.7,285.5 C648.4,279.5 650.2,270.3 651.2,264.4 C652.2,258.5 653.3,256.8 653.7,250.3 C654.1,243.8 653.4,231.9 653.7,225.2 C654.0,218.5 654.2,214.1 655.3,210.1 C656.4,206.1 657.5,203.6 660.3,201.1 C663.1,198.6 668.6,195.7 672.3,195.1 C676.0,194.5 678.9,196.1 682.4,197.6 C685.9,199.1 689.5,201.2 693.4,204.1 C697.2,207.0 702.0,211.8 705.5,215.2 C709.0,218.5 712.0,221.2 714.5,224.2 C717.0,227.2 717.8,230.5 720.5,233.2 C723.2,235.9 726.9,237.6 730.6,240.3 C734.3,243.0 738.8,246.3 742.6,249.3 C746.5,252.3 749.9,255.5 753.7,258.4 C757.6,261.2 761.5,263.4 765.7,266.4 C769.9,269.4 774.6,273.0 778.8,276.4 C783.0,279.8 786.9,283.4 790.9,286.5 C794.9,289.6 798.2,292.2 803.0,295.0 C807.8,297.8 816.8,302.1 819.5,303.5 C820.4,301.0 823.8,293.8 824.6,288.6 C825.4,283.4 824.1,278.7 824.1,272.4 C824.1,266.1 824.2,256.8 824.6,250.7 C825.0,244.6 825.3,241.9 826.8,235.6 C828.2,229.3 831.5,218.7 833.3,212.9 C835.1,207.1 835.3,204.1 837.6,201.0 C839.9,197.9 843.5,195.8 847.3,194.5 C851.1,193.2 856.7,193.1 860.3,193.4 C863.9,193.8 865.4,194.1 869.0,196.6 C872.6,199.1 878.0,205.1 882.0,208.5 C886.0,211.9 889.2,214.3 892.8,217.2 C896.4,220.1 900.0,222.4 903.6,225.8 C907.2,229.2 910.6,233.9 914.4,237.7 C918.2,241.5 922.9,245.0 926.3,248.6 C929.7,252.2 931.4,255.8 935.0,259.4 C938.6,263.0 944.0,266.8 948.0,270.2 C952.0,273.6 954.8,277.3 958.7,280.0 C962.7,282.7 967.3,284.8 971.7,286.4 C976.1,288.0 981.3,288.7 985.0,289.5 C988.7,290.3 991.6,290.5 994.1,291.1 C996.6,291.7 999.0,292.9 1000.0,293.3 C1000.0,289.0 1000.1,277.0 1000.0,267.3 C999.9,257.6 999.6,245.7 999.5,234.9 C999.4,224.1 999.1,209.3 999.5,202.5 C999.9,195.7 998.5,195.7 1001.6,193.8 C1004.7,191.9 1012.5,190.9 1017.9,191.1 C1023.3,191.3 1029.2,193.0 1034.1,194.9 C1039.0,196.8 1042.4,198.9 1047.1,202.5 C1051.8,206.1 1058.1,212.4 1062.2,216.5 C1066.3,220.6 1069.4,224.2 1071.9,227.3 C1074.4,230.4 1074.6,231.7 1077.3,234.9 C1080.0,238.2 1084.8,242.8 1088.2,246.8 C1091.6,250.8 1094.3,255.1 1097.9,258.7 C1101.5,262.3 1106.0,265.5 1109.8,268.4 C1113.6,271.3 1116.6,273.5 1120.6,276.0 C1124.6,278.5 1129.1,281.6 1133.6,283.6 C1138.1,285.6 1143.0,286.7 1147.7,287.9 C1152.4,289.1 1159.4,290.5 1161.7,291.0 C1162.2,287.1 1164.4,278.4 1165.0,267.3 C1165.6,256.2 1165.2,234.4 1165.5,224.1 C1165.8,213.8 1165.2,210.5 1166.5,205.7 C1167.8,200.8 1169.4,198.4 1173.6,195.0 C1177.8,191.6 1185.9,186.4 1191.8,185.4 C1197.7,184.4 1203.5,186.6 1208.8,188.9 C1214.1,191.2 1218.5,194.8 1223.6,199.1 C1228.7,203.4 1235.0,210.3 1239.5,215.0 C1244.0,219.7 1246.2,222.2 1250.9,227.5 C1255.6,232.8 1262.2,240.8 1267.9,246.8 C1273.6,252.9 1279.2,258.7 1284.9,263.8 C1290.6,268.9 1296.9,273.4 1302.0,277.4 C1307.1,281.4 1310.9,284.8 1315.6,287.7 C1320.3,290.6 1325.7,293.2 1330.4,294.5 C1335.1,295.8 1339.6,295.6 1344.0,295.6 C1348.4,295.6 1354.8,294.7 1357.0,294.5"/></g><path class="orh" d="M908.4,463.6 C908.1,465.2 907.6,470.3 906.9,473.4 C906.1,476.5 905.2,479.4 904.2,482.2 C903.1,485.1 901.6,487.7 900.4,490.4 C899.1,493.2 897.8,495.9 896.5,498.8 C895.3,501.6 894.2,504.6 893.0,507.6 C891.7,510.7 890.7,513.5 889.3,517.0 C887.9,520.5 886.6,524.2 884.6,528.9 C882.6,533.7 879.8,540.1 877.0,545.5 C874.3,551.0 870.8,557.0 868.0,561.6 C865.3,566.3 863.0,569.6 860.7,573.4 C858.3,577.3 856.3,580.8 853.8,584.7 C851.3,588.7 848.9,593.0 845.9,597.1 C842.9,601.2 839.7,605.5 836.0,609.5 C832.2,613.5 828.0,617.4 823.6,621.0 C819.3,624.7 814.8,628.0 809.8,631.5 C804.9,635.0 796.6,640.2 793.9,642.0"/><path class="orh" d="M810.6,592.9 L793.9,642 M792.5,644.5 L817,644.2 L841.2,643"/><path class="orh" d="M1060.8,456.2 C1061.1,458.3 1062.0,464.5 1062.7,468.6 C1063.4,472.7 1064.3,476.8 1065.2,480.9 C1066.2,485.0 1067.2,489.1 1068.2,493.3 C1069.1,497.5 1070.0,501.4 1071.1,505.9 C1072.2,510.4 1073.4,515.3 1074.8,520.3 C1076.2,525.3 1078.0,531.0 1079.8,535.9 C1081.5,540.7 1083.4,545.2 1085.3,549.5 C1087.2,553.7 1089.0,557.4 1091.0,561.5 C1093.1,565.7 1095.2,570.1 1097.5,574.2 C1099.7,578.3 1102.1,582.6 1104.5,586.4 C1106.9,590.2 1109.3,593.6 1112.0,597.0 C1114.6,600.4 1117.3,603.4 1120.3,606.7 C1123.4,610.1 1126.9,613.5 1130.3,617.0 C1133.7,620.5 1137.2,624.2 1140.7,627.9 C1144.2,631.5 1147.5,635.2 1151.2,639.0 C1155.0,642.8 1161.3,648.7 1163.3,650.6"/><path class="orh" d="M1154.1,605.7 L1157.3,622.4 L1163.5,650.6 M1117.8,645.7 L1137.9,646.5 L1163.5,650.6"/><path class="or" d="M908.4,463.6 C908.1,465.2 907.6,470.3 906.9,473.4 C906.1,476.5 905.2,479.4 904.2,482.2 C903.1,485.1 901.6,487.7 900.4,490.4 C899.1,493.2 897.8,495.9 896.5,498.8 C895.3,501.6 894.2,504.6 893.0,507.6 C891.7,510.7 890.7,513.5 889.3,517.0 C887.9,520.5 886.6,524.2 884.6,528.9 C882.6,533.7 879.8,540.1 877.0,545.5 C874.3,551.0 870.8,557.0 868.0,561.6 C865.3,566.3 863.0,569.6 860.7,573.4 C858.3,577.3 856.3,580.8 853.8,584.7 C851.3,588.7 848.9,593.0 845.9,597.1 C842.9,601.2 839.7,605.5 836.0,609.5 C832.2,613.5 828.0,617.4 823.6,621.0 C819.3,624.7 814.8,628.0 809.8,631.5 C804.9,635.0 796.6,640.2 793.9,642.0"/><path class="or" d="M810.6,592.9 L793.9,642 M792.5,644.5 L817,644.2 L841.2,643"/><path class="or" d="M1060.8,456.2 C1061.1,458.3 1062.0,464.5 1062.7,468.6 C1063.4,472.7 1064.3,476.8 1065.2,480.9 C1066.2,485.0 1067.2,489.1 1068.2,493.3 C1069.1,497.5 1070.0,501.4 1071.1,505.9 C1072.2,510.4 1073.4,515.3 1074.8,520.3 C1076.2,525.3 1078.0,531.0 1079.8,535.9 C1081.5,540.7 1083.4,545.2 1085.3,549.5 C1087.2,553.7 1089.0,557.4 1091.0,561.5 C1093.1,565.7 1095.2,570.1 1097.5,574.2 C1099.7,578.3 1102.1,582.6 1104.5,586.4 C1106.9,590.2 1109.3,593.6 1112.0,597.0 C1114.6,600.4 1117.3,603.4 1120.3,606.7 C1123.4,610.1 1126.9,613.5 1130.3,617.0 C1133.7,620.5 1137.2,624.2 1140.7,627.9 C1144.2,631.5 1147.5,635.2 1151.2,639.0 C1155.0,642.8 1161.3,648.7 1163.3,650.6"/><path class="or" d="M1154.1,605.7 L1157.3,622.4 L1163.5,650.6 M1117.8,645.7 L1137.9,646.5 L1163.5,650.6"/><g transform="translate(-178,-355)"><path class="tx" d="M461.7,618.2 C464.1,618.4 467.4,621.7 468.7,624.5 C470.0,627.3 469.8,631.5 469.4,635.0 C469.0,638.5 468.5,643.3 466.6,645.5 C464.7,647.7 460.9,648.6 458.2,648.3 C455.5,647.9 451.9,645.7 450.5,643.4 C449.1,641.1 449.2,637.7 449.8,634.3 C450.4,630.9 452.0,625.8 454.0,623.1 C456.0,620.4 459.2,618.0 461.7,618.2 Z"/><path class="tx" d="M477.7,615.5 L486.6,658.5"/><path class="tx" d="M479.5,618.0 L501.5,620.8"/><path class="tx" d="M484.5,636.8 L497.0,636.8"/><path class="tx" d="M513.2,618.2 L518.8,658.1"/><path class="tx" d="M513.2,617.5 L541.9,616.1"/><path class="tx" d="M515.3,633.0 L533.5,632.3"/><path class="tx" d="M569.9,621.0 C568.4,620.9 563.5,619.9 560.8,620.3 C558.1,620.6 554.7,621.8 553.8,623.1 C552.9,624.4 553.3,626.4 555.2,628.0 C557.1,629.6 562.4,631.0 565.0,632.9 C567.6,634.8 569.8,636.8 570.6,639.2 C571.4,641.7 571.2,645.3 569.9,647.6 C568.6,649.9 565.3,652.3 562.9,653.2 C560.5,654.1 556.8,654.0 555.2,653.2 C553.6,652.4 553.5,649.1 553.1,648.3"/><path class="tx" d="M585.3,618.2 L606.3,619.6"/><path class="tx" d="M585.3,618.2 L585.3,651.8 L609.1,649.0"/><path class="tx" d="M586.0,634.3 L602.8,635.0"/><path class="tx" d="M617.0,621.0 L647.0,620.4"/><path class="tx" d="M630.8,625.8 L633.2,655.8"/></g><path class="tx" d="M505.0,251.0 C504.9,253.3 504.1,258.6 504.2,265.0 C504.3,271.4 505.0,281.9 505.9,289.5 C506.8,297.1 509.0,307.2 509.6,310.8"/><path class="tx" style="stroke-width:10;stroke-linejoin:round" d="M487.6,268.4 L526.4,268 L527.3,290 L486.4,290.4 Z"/><path class="tx" d="M140.8,619.0 L163.3,623.0"/><path class="tx" d="M140.8,619.0 L141.2,656.7 L170.6,660.9"/><path class="tx" d="M141.2,635.7 L167.1,637.1"/><path class="tx" d="M178.3,621.0 L185.3,658.8"/><path class="tx" d="M179.0,622.4 L207.7,657.4 L202.1,622.4"/><path class="tx" d="M217.5,620.3 L231.5,658.1 L240.6,614.7"/><path class="tx" d="M252.7,621.0 L270.9,622.4"/><path class="tx" d="M252.7,621.0 L255.5,657.4 L278.6,651.8"/><path class="tx" d="M254.1,638.1 L273.0,639.2"/><path class="tx" d="M290.5,618.9 L292.6,654.6 L309.4,654.6"/><path class="tx" d="M320.5,623.0 C322.2,621.4 324.4,624.0 326.5,624.3 C328.6,624.5 331.4,623.4 333.0,624.5 C334.6,625.6 335.9,628.2 336.0,631.0 C336.1,633.8 334.8,638.1 333.5,641.0 C332.2,643.9 330.5,648.2 328.3,648.5 C326.1,648.8 322.5,644.9 320.5,642.5 C318.5,640.1 316.5,637.2 316.5,634.0 C316.5,630.8 318.8,624.6 320.5,623.0 Z"/><path class="tx" d="M348.6,618.9 L352.8,660.2"/><path class="tx" d="M348.6,618.2 C350.5,618.3 356.4,618.1 359.8,618.9 C363.2,619.7 367.5,621.4 368.9,623.1 C370.3,624.9 370.4,627.2 368.2,629.4 C366.0,631.6 358.5,635.1 355.6,636.4 C352.7,637.7 351.5,637.0 350.7,637.1"/><path class="tx" d="M384.0,614.7 L411.3,615.4"/><path class="tx" d="M384.0,614.7 L385.4,656.7 L412.0,651.8"/><path class="tx" d="M384.7,630.1 L405.0,630.8"/><path class="tx" d="M461.7,618.2 C464.1,618.4 467.4,621.7 468.7,624.5 C470.0,627.3 469.8,631.5 469.4,635.0 C469.0,638.5 468.5,643.3 466.6,645.5 C464.7,647.7 460.9,648.6 458.2,648.3 C455.5,647.9 451.9,645.7 450.5,643.4 C449.1,641.1 449.2,637.7 449.8,634.3 C450.4,630.9 452.0,625.8 454.0,623.1 C456.0,620.4 459.2,618.0 461.7,618.2 Z"/><path class="tx" d="M477.7,615.5 L486.6,658.5"/><path class="tx" d="M479.5,618.0 L501.5,620.8"/><path class="tx" d="M484.5,636.8 L497.0,636.8"/><path class="tx" d="M513.2,618.2 L518.8,658.1"/><path class="tx" d="M513.2,617.5 L541.9,616.1"/><path class="tx" d="M515.3,633.0 L533.5,632.3"/><path class="tx" d="M569.9,621.0 C568.4,620.9 563.5,619.9 560.8,620.3 C558.1,620.6 554.7,621.8 553.8,623.1 C552.9,624.4 553.3,626.4 555.2,628.0 C557.1,629.6 562.4,631.0 565.0,632.9 C567.6,634.8 569.8,636.8 570.6,639.2 C571.4,641.7 571.2,645.3 569.9,647.6 C568.6,649.9 565.3,652.3 562.9,653.2 C560.5,654.1 556.8,654.0 555.2,653.2 C553.6,652.4 553.5,649.1 553.1,648.3"/><path class="tx" d="M585.3,618.2 L606.3,619.6"/><path class="tx" d="M585.3,618.2 L585.3,651.8 L609.1,649.0"/><path class="tx" d="M586.0,634.3 L602.8,635.0"/><path class="tx" d="M617.0,621.0 L647.0,620.4"/><path class="tx" d="M630.8,625.8 L633.2,655.8"/><path class="tx" d="M688.7,612.5 L688.7,640.0"/><path class="tf" d="M670,640.5 L707.5,640 L691.8,661 Z"/><g transform="translate(1108,-13)"><path class="tx" d="M140.8,619.0 L163.3,623.0"/><path class="tx" d="M140.8,619.0 L141.2,656.7 L170.6,660.9"/><path class="tx" d="M141.2,635.7 L167.1,637.1"/><path class="tx" d="M178.3,621.0 L185.3,658.8"/><path class="tx" d="M179.0,622.4 L207.7,657.4 L202.1,622.4"/><path class="tx" d="M217.5,620.3 L231.5,658.1 L240.6,614.7"/><path class="tx" d="M252.7,621.0 L270.9,622.4"/><path class="tx" d="M252.7,621.0 L255.5,657.4 L278.6,651.8"/><path class="tx" d="M254.1,638.1 L273.0,639.2"/><path class="tx" d="M290.5,618.9 L292.6,654.6 L309.4,654.6"/><path class="tx" d="M320.5,623.0 C322.2,621.4 324.4,624.0 326.5,624.3 C328.6,624.5 331.4,623.4 333.0,624.5 C334.6,625.6 335.9,628.2 336.0,631.0 C336.1,633.8 334.8,638.1 333.5,641.0 C332.2,643.9 330.5,648.2 328.3,648.5 C326.1,648.8 322.5,644.9 320.5,642.5 C318.5,640.1 316.5,637.2 316.5,634.0 C316.5,630.8 318.8,624.6 320.5,623.0 Z"/><path class="tx" d="M348.6,618.9 L352.8,660.2"/><path class="tx" d="M348.6,618.2 C350.5,618.3 356.4,618.1 359.8,618.9 C363.2,619.7 367.5,621.4 368.9,623.1 C370.3,624.9 370.4,627.2 368.2,629.4 C366.0,631.6 358.5,635.1 355.6,636.4 C352.7,637.7 351.5,637.0 350.7,637.1"/><path class="tx" d="M384.0,614.7 L411.3,615.4"/><path class="tx" d="M384.0,614.7 L385.4,656.7 L412.0,651.8"/><path class="tx" d="M384.7,630.1 L405.0,630.8"/><path class="tx" d="M461.7,618.2 C464.1,618.4 467.4,621.7 468.7,624.5 C470.0,627.3 469.8,631.5 469.4,635.0 C469.0,638.5 468.5,643.3 466.6,645.5 C464.7,647.7 460.9,648.6 458.2,648.3 C455.5,647.9 451.9,645.7 450.5,643.4 C449.1,641.1 449.2,637.7 449.8,634.3 C450.4,630.9 452.0,625.8 454.0,623.1 C456.0,620.4 459.2,618.0 461.7,618.2 Z"/><path class="tx" d="M477.7,615.5 L486.6,658.5"/><path class="tx" d="M479.5,618.0 L501.5,620.8"/><path class="tx" d="M484.5,636.8 L497.0,636.8"/><path class="tx" d="M513.2,618.2 L518.8,658.1"/><path class="tx" d="M513.2,617.5 L541.9,616.1"/><path class="tx" d="M515.3,633.0 L533.5,632.3"/><path class="tx" d="M569.9,621.0 C568.4,620.9 563.5,619.9 560.8,620.3 C558.1,620.6 554.7,621.8 553.8,623.1 C552.9,624.4 553.3,626.4 555.2,628.0 C557.1,629.6 562.4,631.0 565.0,632.9 C567.6,634.8 569.8,636.8 570.6,639.2 C571.4,641.7 571.2,645.3 569.9,647.6 C568.6,649.9 565.3,652.3 562.9,653.2 C560.5,654.1 556.8,654.0 555.2,653.2 C553.6,652.4 553.5,649.1 553.1,648.3"/><path class="tx" d="M585.3,618.2 L606.3,619.6"/><path class="tx" d="M585.3,618.2 L585.3,651.8 L609.1,649.0"/><path class="tx" d="M586.0,634.3 L602.8,635.0"/><path class="tx" d="M617.0,621.0 L647.0,620.4"/><path class="tx" d="M630.8,625.8 L633.2,655.8"/></g><path class="tx" d="M1790.6,626.0 L1791.5,645.0"/><path class="tf" d="M1787.9,603 L1776.5,623.5 L1801.5,624.5 Z"/>
</svg>
</body></html>
